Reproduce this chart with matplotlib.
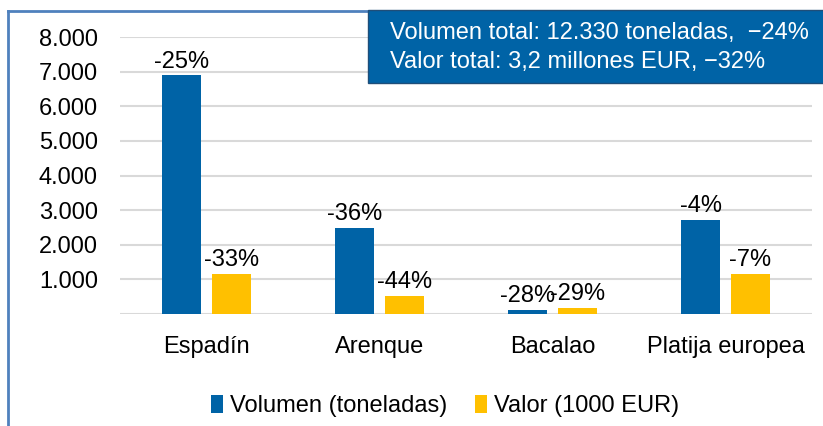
import matplotlib

matplotlib.use("Agg")
import matplotlib.pyplot as plt
from matplotlib.patches import Rectangle
from matplotlib.lines import Line2D
import numpy as np

plt.rcParams["font.family"] = ["Liberation Sans", "DejaVu Sans"]

categories = ["Espadín", "Arenque", "Bacalao", "Platija europea"]
volumen = [6890, 2480, 115, 2720]
valor = [1150, 530, 180, 1150]
volumen_labels = ["-25%", "-36%", "-28%", "-4%"]
valor_labels = ["-33%", "-44%", "-29%", "-7%"]
yticks = [1000, 2000, 3000, 4000, 5000, 6000, 7000, 8000]
ytick_labels = ["1.000", "2.000", "3.000", "4.000", "5.000", "6.000", "7.000", "8.000"]
box_lines = ["Volumen total: 12.330 toneladas,  \u221224%",
             "Valor total: 3,2 millones EUR, \u221232%"]

BLUE = "#0063A6"
YELLOW = "#FFC000"
FS = 17

fig = plt.figure(figsize=(8.23, 4.26), dpi=100)
ax = fig.add_axes([120 / 823, 1 - 314 / 426, 692 / 823, 277 / 426])

x = np.arange(len(categories))
w = 0.226
off = 0.142
b1 = ax.bar(x - off, volumen, w, color=BLUE, zorder=3)
b2 = ax.bar(x + off, valor, w, color=YELLOW, zorder=3)

for bars, labels in ((b1, volumen_labels), (b2, valor_labels)):
    for bar, lab in zip(bars, labels):
        ax.annotate(lab, (bar.get_x() + bar.get_width() / 2, bar.get_height()),
                    xytext=(0, 2), textcoords="offset points",
                    ha="center", va="bottom", fontsize=FS, clip_on=False)

ax.set_xlim(-0.5, 3.5)
ax.set_ylim(0, 8000)
ax.set_yticks(yticks)
ax.set_yticklabels(ytick_labels, fontsize=FS)
ax.set_xticks(x)
ax.set_xticklabels(categories, fontsize=FS)
ax.tick_params(axis="both", length=0)
ax.tick_params(axis="y", pad=16)
ax.tick_params(axis="x", pad=16)
ax.grid(axis="y", color="#D9D9D9", linewidth=1.5, zorder=0)
ax.axhline(0, color="#D9D9D9", linewidth=1.5, zorder=2)
for s in ax.spines.values():
    s.set_visible(False)

# outer border (left and top visible)
fig.add_artist(Line2D([8 / 823, 8 / 823], [0, 1 - 11 / 426], color="#4F81BD", linewidth=2))
fig.add_artist(Line2D([8 / 823, 1], [1 - 11 / 426, 1 - 11 / 426], color="#4F81BD", linewidth=2))

# summary box
fig.add_artist(Rectangle((368 / 823, 1 - 83 / 426), 470 / 823, 73 / 426,
                         facecolor=BLUE, edgecolor="#1F4E79", linewidth=1,
                         transform=fig.transFigure, zorder=5))
fig.text(390 / 823, 1 - 33 / 426, box_lines[0], color="white", fontsize=FS,
         va="center", ha="left", zorder=6)
fig.text(390 / 823, 1 - 62 / 426, box_lines[1], color="white", fontsize=FS,
         va="center", ha="left", zorder=6)

fig.legend([b1, b2], ["Volumen (toneladas)", "Valor (1000 EUR)"],
           loc="center", bbox_to_anchor=(445 / 823, 1 - 406 / 426), ncol=2,
           frameon=False, fontsize=FS, handlelength=0.5, handleheight=0.8,
           handletextpad=0.3, columnspacing=1.2)

fig.savefig("out.png", dpi=100)
